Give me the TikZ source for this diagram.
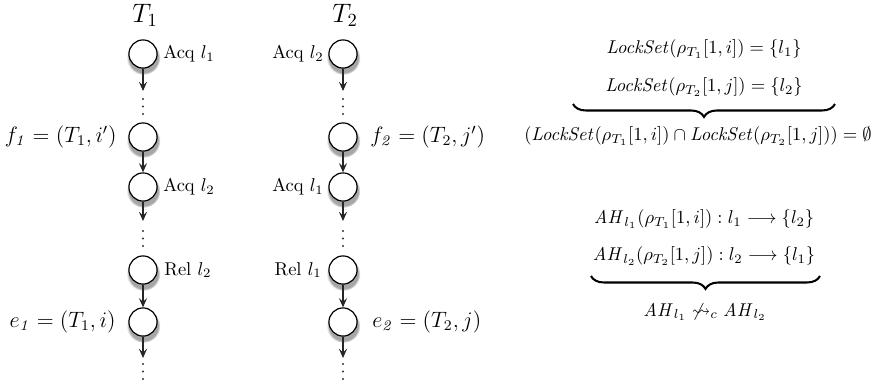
\documentclass[tikz,border=0pt]{standalone}
\usepackage{amsmath,amssymb}
\usetikzlibrary{shadows,arrows.meta,decorations.pathreplacing}
\begin{document}
\begin{tikzpicture}[x=0.54pt,y=-0.54pt,
  ev/.style={circle,draw=black,line width=0.65pt,fill=white,minimum size=15.2pt,inner sep=0pt,
    circular drop shadow={shadow xshift=0.2pt,shadow yshift=-1.8pt,shadow scale=1.2,opacity=0.7}},
  arr/.style={-{Stealth[length=5pt,width=4.4pt,inset=2pt]},line width=0.6pt,draw=black!85},
  txt/.style={inner sep=0pt},
  big/.style={inner sep=0pt,font=\large},
  tl/.style={inner sep=0pt,font=\Large},
  dot/.style={fill=black!80},
  br/.style={decorate,decoration={brace,mirror,amplitude=7pt},line width=1.1pt}]
\useasboundingbox (0,0) rectangle (876,387);
% thread 1
\node[tl] (t1) at (145,15) {$T_1$};
\node[ev] (a1) at (143,54) {};
\node[txt,anchor=west] (a1l) at (163,54) {Acq $l_1$};
\coordinate (a1e) at (143,91);
\node[ev] (a2) at (143,137) {};
\node[big,anchor=east] (a2l) at (117,137) {$f_{\mathit{1}} = (T_1, i')$};
\node[ev] (a3) at (143,187) {};
\node[txt,anchor=west] (a3l) at (163,187) {Acq $l_2$};
\coordinate (a3e) at (143,221);
\node[ev] (a4) at (143,270) {};
\node[txt,anchor=west] (a4l) at (164,270) {Rel $l_2$};
\node[ev] (a5) at (143,322) {};
\node[big,anchor=east] (a5l) at (116,322) {$e_{\mathit{1}} = (T_1, i)$};
\coordinate (a5e) at (143,358);
\draw[arr] (a1) -- (a1e);
\draw[arr] (a2) -- (a3);
\draw[arr] (a3) -- (a3e);
\draw[arr] (a4) -- (a5);
\draw[arr] (a5) -- (a5e);
% thread 2
\node[tl] (t2) at (345,15) {$T_2$};
\node[ev] (b1) at (343,54) {};
\node[txt,anchor=east] (b1l) at (324,54) {Acq $l_2$};
\coordinate (b1e) at (343,91);
\node[ev] (b2) at (343,137) {};
\node[big,anchor=west] (b2l) at (370,137) {$f_{\mathit{2}} = (T_2, j')$};
\node[ev] (b3) at (343,187) {};
\node[txt,anchor=east] (b3l) at (324,187) {Acq $l_1$};
\coordinate (b3e) at (343,221);
\node[ev] (b4) at (343,270) {};
\node[txt,anchor=east] (b4l) at (322,270) {Rel $l_1$};
\node[ev] (b5) at (343,322) {};
\node[big,anchor=west] (b5l) at (372,322) {$e_{\mathit{2}} = (T_2, j)$};
\coordinate (b5e) at (343,358);
\draw[arr] (b1) -- (b1e);
\draw[arr] (b2) -- (b3);
\draw[arr] (b3) -- (b3e);
\draw[arr] (b4) -- (b5);
\draw[arr] (b5) -- (b5e);
% vertical ellipses
\foreach \cx in {143,343}{
  \foreach \cy in {99,106.5,114, 231,238.5,246, 364,371.5,379}{
    \fill[dot] (\cx,\cy) circle (0.55pt);
  }
}
% right: lock sets
\node[txt] (ls1) at (704,49) {$\mathit{LockSet}(\rho_{T_1}[1,i]) = \{l_1\}$};
\node[txt] (ls2) at (704,87) {$\mathit{LockSet}(\rho_{T_2}[1,j]) = \{l_2\}$};
\coordinate (lb1) at (573,104);
\coordinate (lb2) at (835,104);
\draw[br] (lb1) -- (lb2);
\node[txt] (ls3) at (698,136) {$(\mathit{LockSet}(\rho_{T_1}[1,i]) \cap \mathit{LockSet}(\rho_{T_2}[1,j])) = \emptyset$};
% right: acquisition histories
\node[txt] (ah1) at (704,219) {$\mathit{AH}_{l_1}(\rho_{T_1}[1,i]) : l_1 \longrightarrow \{l_2\}$};
\node[txt] (ah2) at (704,256) {$\mathit{AH}_{l_2}(\rho_{T_2}[1,j]) : l_2 \longrightarrow \{l_1\}$};
\coordinate (hb1) at (591,276);
\coordinate (hb2) at (820,276);
\draw[br] (hb1) -- (hb2);
\node[txt] (ah3) at (705,312) {$\mathit{AH}_{l_1} \not\leadsto_c \mathit{AH}_{l_2}$};
\end{tikzpicture}
\end{document}
